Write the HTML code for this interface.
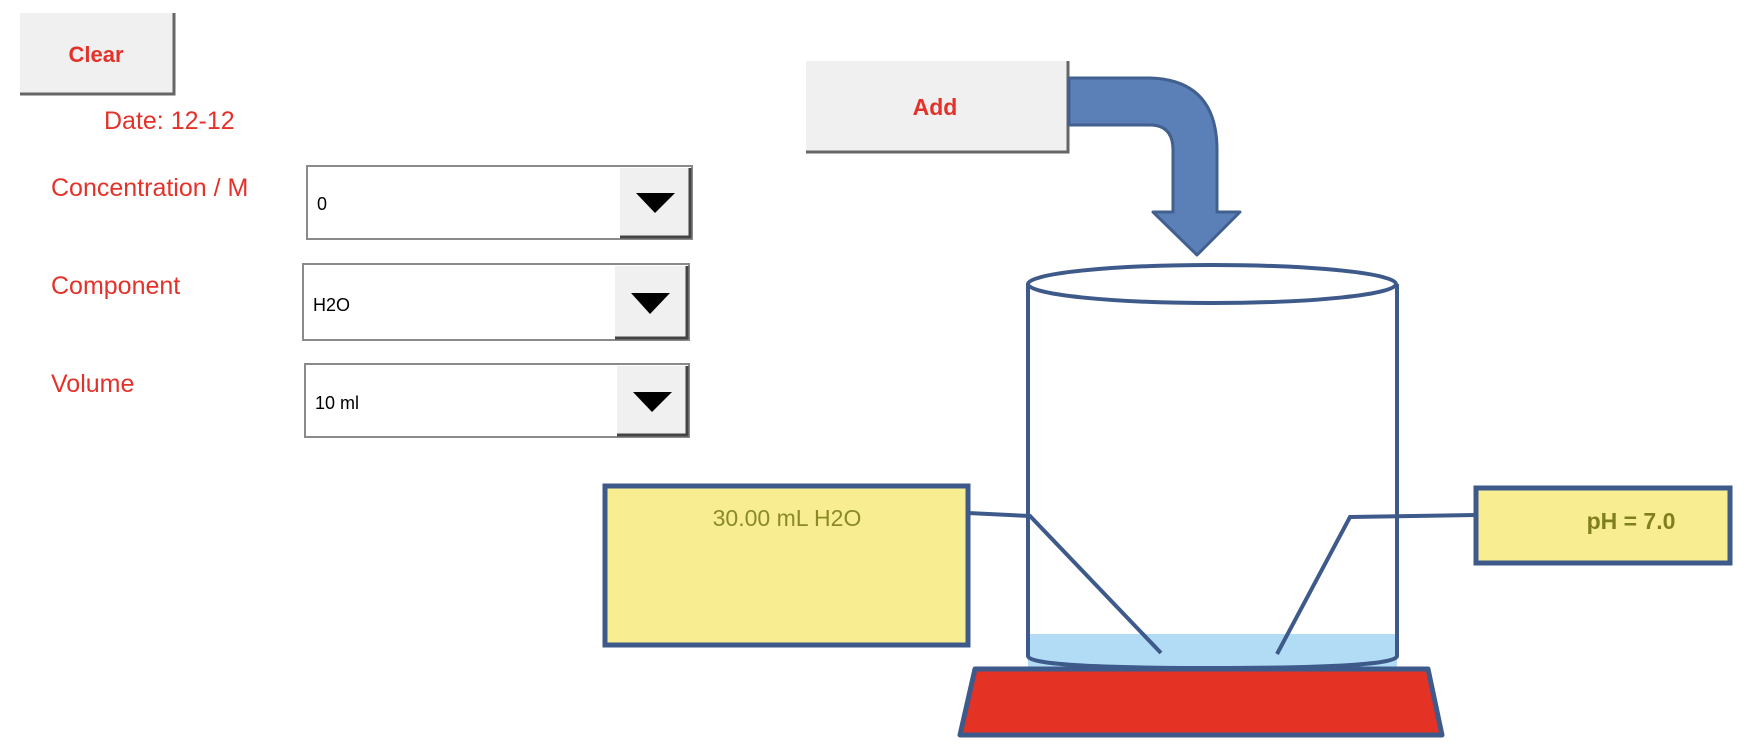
<!DOCTYPE html>
<html><head><meta charset="utf-8"><style>
html,body{margin:0;padding:0;background:#fff;width:1756px;height:750px;overflow:hidden}
svg{display:block}
text{font-family:"Liberation Sans",Arial,sans-serif}
</style></head><body>
<svg width="1756" height="750" viewBox="0 0 1756 750" xmlns="http://www.w3.org/2000/svg">
<!-- Clear button -->
<rect x="20" y="13" width="154" height="81" fill="#f0f0f0"/>
<path d="M20 94 H174 V13" fill="none" stroke="#666" stroke-width="3"/>
<text x="96" y="62" fill="#e4312a" font-size="22" font-weight="bold" text-anchor="middle">Clear</text>
<text x="104" y="129" fill="#e4312a" font-size="25">Date:  12-12</text>

<text x="51" y="196" fill="#e4312a" font-size="25">Concentration / M</text>
<text x="51" y="294" fill="#e4312a" font-size="25">Component</text>
<text x="51" y="392" fill="#e4312a" font-size="25">Volume</text>

<!-- dropdowns -->
<g>
<rect x="307" y="166" width="385" height="73" fill="#fff" stroke="#8a8a8a" stroke-width="2"/>
<rect x="620" y="168" width="70" height="69" fill="#f0f0f0"/>
<path d="M620 237 H690 V168" fill="none" stroke="#444" stroke-width="3"/>
<polygon points="636,193 675,193 655,213" fill="#000"/>
<text x="317" y="210" font-size="18" fill="#000">0</text>
</g>
<g>
<rect x="303" y="264" width="386" height="76" fill="#fff" stroke="#8a8a8a" stroke-width="2"/>
<rect x="615" y="266" width="72" height="72" fill="#f0f0f0"/>
<path d="M615 338 H687 V266" fill="none" stroke="#444" stroke-width="3"/>
<polygon points="631,293 670,293 650,314" fill="#000"/>
<text x="313" y="311" font-size="18" fill="#000">H2O</text>
</g>
<g>
<rect x="305" y="364" width="384" height="73" fill="#fff" stroke="#8a8a8a" stroke-width="2"/>
<rect x="617" y="366" width="70" height="69" fill="#f0f0f0"/>
<path d="M617 435 H687 V366" fill="none" stroke="#444" stroke-width="3"/>
<polygon points="633,392 672,392 652,412" fill="#000"/>
<text x="315" y="409" font-size="18" fill="#000">10 ml</text>
</g>

<!-- Add button -->
<rect x="806" y="61" width="262" height="91" fill="#f0f0f0"/>
<path d="M806 152 H1068 V61" fill="none" stroke="#666" stroke-width="3"/>
<text x="935" y="115" fill="#e4312a" font-size="23" font-weight="bold" text-anchor="middle">Add</text>

<!-- bent arrow -->
<path d="M1069 78 H1150 Q1217 80 1217 150 V212 H1240 L1197 255 L1153 212 H1173 V150 Q1173 125 1150 125 H1069 Z" fill="#5b80b7" stroke="#41608f" stroke-width="3" stroke-linejoin="round"/>

<!-- liquid -->
<path d="M1028 634 H1397 V668 H1028 Z" fill="#b2dcf5"/>
<!-- beaker -->
<path d="M1028 284 V656 Q1028 668 1212 668 Q1397 668 1397 656 V284" fill="none" stroke="#3e5a8a" stroke-width="4"/>
<ellipse cx="1212" cy="284" rx="184" ry="19" fill="#fff" stroke="#3e5a8a" stroke-width="4"/>

<!-- red base -->
<polygon points="975,669 1428,669 1442,735 960,735" fill="#e43325" stroke="#3e5a8a" stroke-width="5" stroke-linejoin="round"/>

<!-- left box -->
<rect x="605" y="486" width="363" height="159" fill="#f8ee91" stroke="#3e5a8a" stroke-width="5"/>
<text x="787" y="526" fill="#8a8a28" font-size="23" text-anchor="middle">30.00  mL H2O</text>
<polyline points="968,513 1030,516 1161,653" fill="none" stroke="#3e5a8a" stroke-width="4"/>

<!-- pH box -->
<rect x="1476" y="488" width="254" height="75" fill="#f8ee91" stroke="#3e5a8a" stroke-width="5"/>
<text x="1631" y="529" fill="#7f7f20" font-size="23" font-weight="bold" text-anchor="middle">pH = 7.0</text>
<polyline points="1476,515 1350,517 1277,654" fill="none" stroke="#3e5a8a" stroke-width="4"/>
</svg>
</body></html>
